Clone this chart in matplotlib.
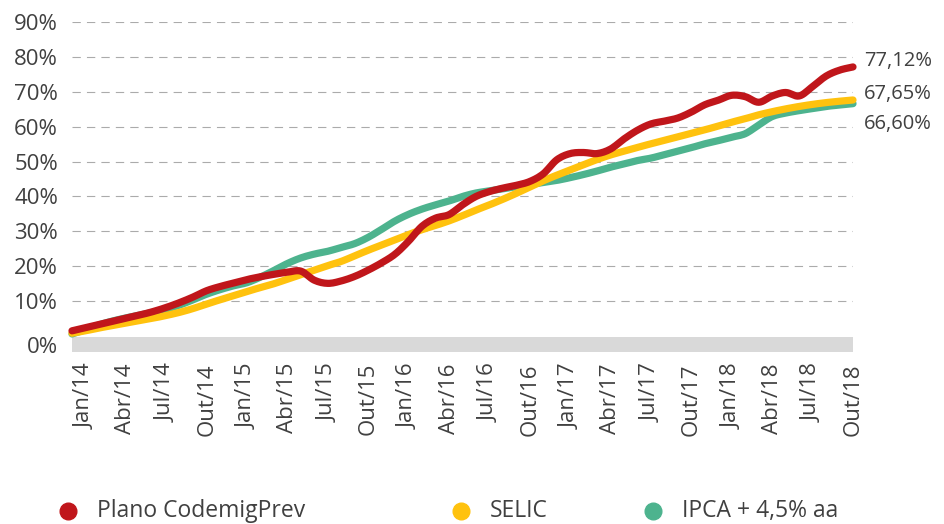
import numpy as np
import matplotlib
matplotlib.use('Agg')
import matplotlib.pyplot as plt
from matplotlib.lines import Line2D

plt.rcParams['font.family'] = ['Open Sans', 'DejaVu Sans']

# monthly accumulated returns (%), Dez/13 .. Out/18
months = list(range(59))
plano = [1.5, 2.4, 3.3, 4.2, 5.1, 6.0, 7.0, 8.2, 9.6, 11.2,
         13.0, 14.2, 15.2, 16.2, 17.0, 17.7, 18.3, 18.6, 16.0, 15.1,
         15.8, 17.1, 18.9, 21.0, 23.5, 27.2, 31.5, 33.8, 34.8, 37.6,
         40.0, 41.4, 42.4, 43.2, 44.3, 46.5, 50.5, 52.3, 52.6, 52.3,
         53.6, 56.5, 59.0, 60.8, 61.6, 62.5, 64.2, 66.3, 67.6, 69.0,
         68.6, 67.0, 68.8, 69.8, 68.8, 71.5, 74.5, 76.2, 77.12]
selic = [0.8, 1.5, 2.3, 3.0, 3.7, 4.4, 5.1, 5.9, 6.8, 7.9,
         9.2, 10.4, 11.6, 12.8, 13.9, 15.0, 16.3, 17.6, 18.9, 20.2,
         21.4, 23.0, 24.6, 26.1, 27.6, 29.1, 30.5, 31.7, 33.0, 34.5,
         36.1, 37.6, 39.2, 40.9, 42.7, 44.5, 46.1, 47.6, 49.1, 50.6,
         51.9, 53.0, 54.1, 55.1, 56.1, 57.1, 58.1, 59.1, 60.2, 61.3,
         62.3, 63.4, 64.3, 65.1, 65.8, 66.4, 66.9, 67.3, 67.65]
ipca = [0.6, 1.8, 3.2, 4.3, 5.2, 6.0, 6.8, 7.7, 8.9, 10.4,
        12.0, 13.3, 14.4, 15.3, 16.9, 18.8, 20.8, 22.4, 23.5, 24.3,
        25.4, 26.5, 28.3, 30.6, 33.0, 34.9, 36.4, 37.6, 38.7, 40.0,
        41.0, 41.6, 42.2, 42.8, 43.4, 44.0, 44.6, 45.4, 46.3, 47.3,
        48.4, 49.3, 50.3, 51.0, 52.0, 53.0, 54.0, 55.1, 56.0, 57.0,
        58.0, 60.5, 62.9, 63.9, 64.6, 65.2, 65.8, 66.2, 66.6]

series_names = ['Plano CodemigPrev', 'SELIC', 'IPCA + 4,5% aa']
end_labels = ['77,12%', '67,65%', '66,60%']
tick_labels = ['Jan/14', 'Abr/14', 'Jul/14', 'Out/14',
               'Jan/15', 'Abr/15', 'Jul/15', 'Out/15',
               'Jan/16', 'Abr/16', 'Jul/16', 'Out/16',
               'Jan/17', 'Abr/17', 'Jul/17', 'Out/17',
               'Jan/18', 'Abr/18', 'Jul/18', 'Out/18']

colours = ['#C0161B', '#FFC20E', '#4DB38E']
txt = '#404040'


def smooth(x, y, n=8):
    ##Catmull-Rom pass so the lines come out curved like the spreadsheet ones
    pts = np.column_stack([x, y]).astype(float)
    p = np.vstack([pts[0], pts, pts[-1]])
    t = np.linspace(0, 1, n, endpoint=False)[:, None]
    out = []
    for i in range(1, len(p) - 2):
        p0, p1, p2, p3 = p[i - 1], p[i], p[i + 1], p[i + 2]
        seg = 0.5 * (2 * p1 + (-p0 + p2) * t
                     + (2 * p0 - 5 * p1 + 4 * p2 - p3) * t ** 2
                     + (-p0 + 3 * p1 - 3 * p2 + p3) * t ** 3)
        out.append(seg)
    out.append(pts[-1:])
    return np.vstack(out)


fig = plt.figure(figsize=(9.44, 5.24), dpi=100)
ax = fig.add_axes([72 / 944, 1 - 352 / 524, 781 / 944, 330 / 524])

ymin = -4.57
ax.set_xlim(0, 58)
ax.set_ylim(ymin, 90)

##grey baseline band under the zero line
ax.axhspan(ymin, -0.3, color='#D9D9D9', lw=0, zorder=1)

for v in range(10, 100, 10):
    ax.axhline(v, color='#ABABAB', lw=0.8, ls=(0, (7.5, 5.5)), zorder=0.5)

##draw green first, red on top
for vals, col, z in zip([ipca, selic, plano], colours[::-1], [3, 4, 5]):
    s = smooth(months, vals)
    ax.plot(s[:, 0], s[:, 1], color=col, lw=5.2, solid_capstyle='round',
            solid_joinstyle='round', zorder=z, clip_on=False)

##value labels at the right end
offsets = [4, 4, -15]
for vals, lab, dy in zip([plano, selic, ipca], end_labels, offsets):
    ax.annotate(lab, xy=(58, vals[-1]), xytext=(8, dy), textcoords='offset points',
                ha='left', va='center', fontsize=14.5, color=txt,
                annotation_clip=False)

ax.set_xticks(np.arange(1, 59, 3))
ax.set_xticklabels(tick_labels, rotation=90, fontsize=16, color=txt)
yt = [(ymin - 0.3) / 2] + list(range(10, 100, 10))
ax.set_yticks(yt)
ax.set_yticklabels(['%d%%' % v for v in range(0, 100, 10)], fontsize=16, color=txt)
ax.tick_params(length=0)
ax.tick_params(axis='x', pad=8)
ax.tick_params(axis='y', pad=10)
for sp in ax.spines.values():
    sp.set_visible(False)

##legend row along the bottom edge
leg_x = [68, 461, 653]
for name, col, lx in zip(series_names, colours, leg_x):
    fig.add_artist(Line2D([lx / 944], [1 - 511 / 524], marker='o', ms=12,
                          color=col, lw=0, transform=fig.transFigure))
    fig.text((lx + 29) / 944, 1 - 517 / 524, name, fontsize=16.5, color=txt,
             ha='left', va='baseline')

plt.savefig('out.png', dpi=100)
plt.close()
